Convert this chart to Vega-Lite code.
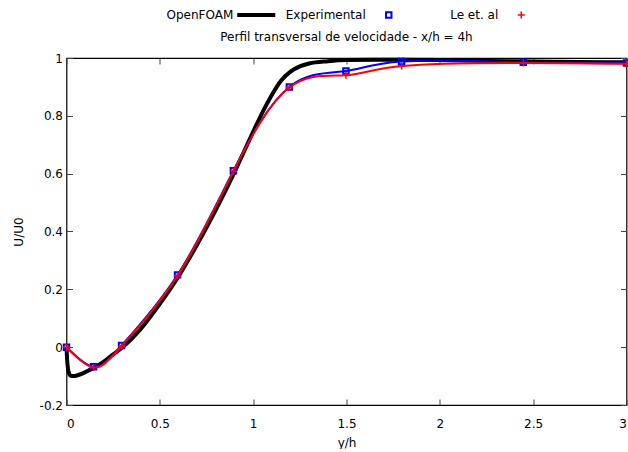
{
  "$schema": "https://vega.github.io/schema/vega-lite/v6.json",
  "background": "white",
  "padding": {"left": 10.5, "top": 0, "right": 0, "bottom": 0},
  "config": {
    "font": "DejaVu Sans",
    "view": {"stroke": "#000000", "strokeWidth": 1.2},
    "concat": {"spacing": 0},
    "axis": {"labelFont": "DejaVu Sans", "titleFont": "DejaVu Sans", "labelFontSize": 12, "titleFontSize": 12, "titleFontWeight": "normal", "labelColor": "#000000", "titleColor": "#000000", "tickColor": "#444444", "domain": false, "grid": false},
    "title": {"font": "DejaVu Sans", "fontSize": 12, "fontWeight": "normal", "color": "#000000"}
  },
  "datasets": {
    "legend": [{"series": "OpenFOAM"}, {"series": "Experimental"}, {"series": "Le et. al"}],
    "openfoam": [
      {"x": 0, "u": 0}, {"x": 0.003, "u": -0.04}, {"x": 0.008, "u": -0.075}, {"x": 0.015, "u": -0.093},
      {"x": 0.025, "u": -0.1}, {"x": 0.04, "u": -0.1}, {"x": 0.06, "u": -0.097}, {"x": 0.09, "u": -0.09},
      {"x": 0.12, "u": -0.08}, {"x": 0.15, "u": -0.07}, {"x": 0.2, "u": -0.05}, {"x": 0.25, "u": -0.025},
      {"x": 0.3, "u": 0.0}, {"x": 0.35, "u": 0.03}, {"x": 0.4, "u": 0.065}, {"x": 0.5, "u": 0.15},
      {"x": 0.6, "u": 0.245}, {"x": 0.7, "u": 0.355}, {"x": 0.8, "u": 0.475}, {"x": 0.9, "u": 0.605},
      {"x": 0.95, "u": 0.675}, {"x": 1.0, "u": 0.745}, {"x": 1.05, "u": 0.812}, {"x": 1.1, "u": 0.872},
      {"x": 1.15, "u": 0.922}, {"x": 1.2, "u": 0.953}, {"x": 1.25, "u": 0.971}, {"x": 1.3, "u": 0.981},
      {"x": 1.4, "u": 0.989}, {"x": 1.5, "u": 0.993}, {"x": 1.75, "u": 0.994}, {"x": 2.0, "u": 0.993},
      {"x": 2.25, "u": 0.99}, {"x": 2.5, "u": 0.988}, {"x": 2.75, "u": 0.986}, {"x": 3.0, "u": 0.985}
    ],
    "experimental": [
      {"x": 0, "u": 0}, {"x": 0.145, "u": -0.068}, {"x": 0.295, "u": 0.006}, {"x": 0.595, "u": 0.25},
      {"x": 0.894, "u": 0.61}, {"x": 1.194, "u": 0.9}, {"x": 1.497, "u": 0.955}, {"x": 1.795, "u": 0.988},
      {"x": 2.447, "u": 0.985}, {"x": 3.0, "u": 0.983}
    ],
    "le": [
      {"x": 0, "u": 0}, {"x": 0.145, "u": -0.07}, {"x": 0.295, "u": 0.004}, {"x": 0.595, "u": 0.247},
      {"x": 0.894, "u": 0.608}, {"x": 1.194, "u": 0.898}, {"x": 1.497, "u": 0.94}, {"x": 1.795, "u": 0.972},
      {"x": 2.447, "u": 0.983}, {"x": 3.0, "u": 0.98}
    ]
  },
  "vconcat": [
    {
      "width": 530,
      "height": 30,
      "view": {"stroke": null},
      "data": {"name": "legend"},
      "encoding": {
        "x": {"field": "series", "type": "nominal", "axis": null,
              "scale": {"type": "point", "domain": ["OpenFOAM", "Experimental", "Le et. al"], "padding": 1.2901, "align": 0.716}}
      },
      "layer": [
        {"mark": {"type": "text", "align": "right", "baseline": "middle", "dx": -23, "fontSize": 12, "font": "DejaVu Sans", "color": "#000000"},
         "encoding": {"text": {"field": "series"}}},
        {"transform": [{"filter": "datum.series == 'OpenFOAM'"}],
         "mark": {"type": "point", "shape": "M-1,0H1", "size": 1444, "strokeWidth": 4, "color": "#000000", "filled": false, "opacity": 1}},
        {"transform": [{"filter": "datum.series == 'Experimental'"}],
         "mark": {"type": "point", "shape": "square", "size": 30, "strokeWidth": 2, "color": "#0000ff", "filled": false, "opacity": 1}},
        {"transform": [{"filter": "datum.series == 'Le et. al'"}],
         "mark": {"type": "point", "shape": "M-1,0H1M0,-1V1", "size": 49, "strokeWidth": 1.5, "color": "#ff0000", "filled": false, "opacity": 1}}
      ]
    },
    {
      "width": 560,
      "height": 347,
      "title": {"text": "Perfil transversal de velocidade - x/h = 4h", "anchor": "middle", "offset": 8},
      "layer": [
        {
          "data": {"name": "openfoam"},
          "mark": {"type": "line", "color": "#000000", "strokeWidth": 4, "interpolate": "monotone"},
          "encoding": {
            "x": {"field": "x", "type": "quantitative", "scale": {"domain": [0, 3], "nice": false, "zero": false},
                  "axis": {"orient": "bottom", "title": "y/h", "values": [0, 0.5, 1, 1.5, 2, 2.5, 3], "tickSize": -6, "labelPadding": 19, "titlePadding": 8,
                           "labelExpr": "replace(format(datum.value, '~g'), '\u2212', '-')"}},
            "y": {"field": "u", "type": "quantitative", "scale": {"domain": [-0.2, 1], "nice": false, "zero": false},
                  "axis": {"orient": "left", "title": "U/U0", "values": [-0.2, 0, 0.2, 0.4, 0.6, 0.8, 1], "tickSize": -6, "labelPadding": 10, "titlePadding": 14,
                           "labelExpr": "replace(format(datum.value, '~g'), '\u2212', '-')"}}
          }
        },
        {
          "data": {"name": "experimental"},
          "mark": {"type": "line", "color": "#0000ff", "strokeWidth": 2, "interpolate": "natural"},
          "encoding": {
            "x": {"field": "x", "type": "quantitative",
                  "axis": {"orient": "top", "title": null, "labels": false, "values": [0, 0.5, 1, 1.5, 2, 2.5, 3], "tickSize": -6}},
            "y": {"field": "u", "type": "quantitative",
                  "axis": {"orient": "right", "title": null, "labels": false, "values": [-0.2, 0, 0.2, 0.4, 0.6, 0.8, 1], "tickSize": -6}}
          }
        },
        {
          "data": {"name": "experimental"},
          "mark": {"type": "point", "shape": "square", "size": 30, "strokeWidth": 2, "color": "#0000ff", "filled": false, "opacity": 1},
          "encoding": {
            "x": {"field": "x", "type": "quantitative", "axis": null},
            "y": {"field": "u", "type": "quantitative", "axis": null}
          }
        },
        {
          "data": {"name": "le"},
          "mark": {"type": "line", "color": "#ff0000", "strokeWidth": 2, "interpolate": "natural"},
          "encoding": {
            "x": {"field": "x", "type": "quantitative", "axis": null},
            "y": {"field": "u", "type": "quantitative", "axis": null}
          }
        },
        {
          "data": {"name": "le"},
          "mark": {"type": "point", "shape": "M-1,0H1M0,-1V1", "size": 49, "strokeWidth": 1.5, "color": "#ff0000", "filled": false, "opacity": 1},
          "encoding": {
            "x": {"field": "x", "type": "quantitative", "axis": null},
            "y": {"field": "u", "type": "quantitative", "axis": null}
          }
        }
      ],
      "resolve": {"axis": {"x": "independent", "y": "independent"}}
    }
  ]
}
